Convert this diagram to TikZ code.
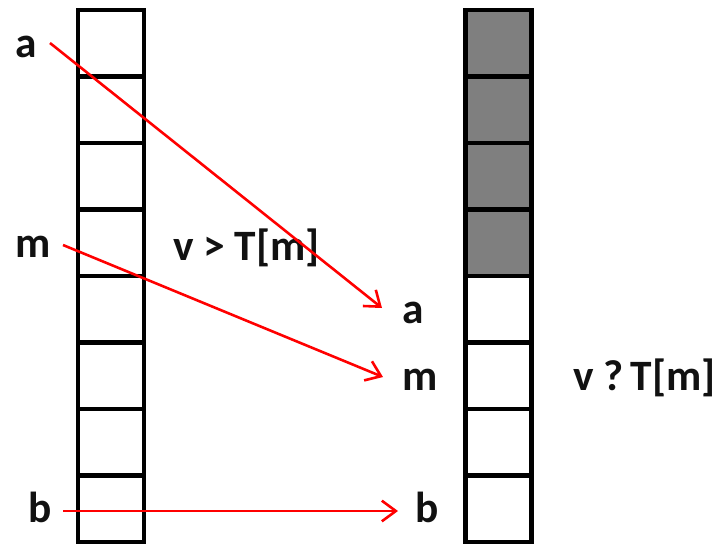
\documentclass[tikz,border=0pt]{standalone}
\usepackage{fontspec}
\setmainfont{Carlito}
\usepackage{tikz}
\usetikzlibrary{positioning,arrows.meta}
\definecolor{bsRed}{HTML}{FF0000}
\definecolor{bsGray}{HTML}{7F7F7F}
\definecolor{bsText}{HTML}{111111}
\tikzset{
  bs-cell/.style={
    draw=black, line width=3.7pt, fill=white,
    minimum width=1.98cm, minimum height=1.995cm, inner sep=0pt
  },
  bs-done/.style={bs-cell, fill=bsGray},
  bs-flow/.style={-{Straight Barb[length=0.42cm,width=0.62cm]},
    line width=2.2pt, draw=bsRed},
  bs-label/.style={font=\fontsize{37}{42}\selectfont\bfseries,
    text=bsText, inner sep=0pt, anchor=base west}
}

\begin{document}
\begin{tikzpicture}[x=0.03cm, y=-0.03cm]
\useasboundingbox (0,0) rectangle (717,546);
\foreach \i in {1,...,8}
  \node[bs-cell] (L\i) at (111, {43.25+(\i-1)*66.5}) {};
\foreach \i in {1,...,4}
  \node[bs-done] (R\i) at (498.5, {43.25+(\i-1)*66.5}) {};
\foreach \i in {5,...,8}
  \node[bs-cell] (R\i) at (498.5, {43.25+(\i-1)*66.5}) {};

\node[bs-label] (la) at (15,57) {a};
\node[bs-label] (lm) at (15,257) {m};
\node[bs-label] (lb) at (28,522) {b};
\node[bs-label] (ra) at (402,323) {a};
\node[bs-label] (rm) at (402,390) {m};
\node[bs-label] (rb) at (415,522) {b};
\node[bs-label] (gt) at (173,260) {v > T[m]};
\node[bs-label] (qm) at (573,390) {v ?\,T[m]};

\coordinate (a-from) at (50,43);
\coordinate (a-to) at (382,308);
\coordinate (m-from) at (63,245);
\coordinate (m-to) at (383,377);
\coordinate (b-from) at (63,511);
\coordinate (b-to) at (398,511);

\draw[bs-flow] (a-from) -- (a-to);
\draw[bs-flow] (m-from) -- (m-to);
\draw[bs-flow] (b-from) -- (b-to);
\end{tikzpicture}
\end{document}
